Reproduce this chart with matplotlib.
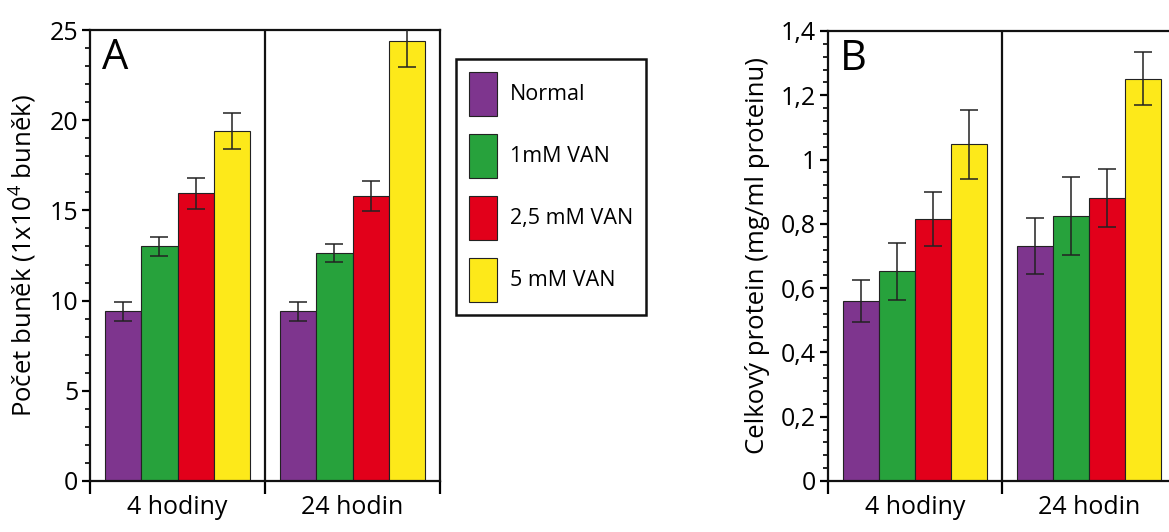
import numpy as np
import matplotlib
matplotlib.use("Agg")
import matplotlib.pyplot as plt
from matplotlib.patches import Patch
from matplotlib.ticker import MultipleLocator

plt.rcParams['font.family'] = ['Open Sans', 'DejaVu Sans']
plt.rcParams['mathtext.fontset'] = 'custom'
plt.rcParams['mathtext.rm'] = 'Open Sans'

groups = ['4 hodiny', '24 hodin']
series = ['Normal', '1mM VAN', '2,5 mM VAN', '5 mM VAN']
colors = ['#7e358e', '#27a23c', '#e2001a', '#fde91a']

# panel A: pocet bunek (1x10^4)
cells = [[9.4, 13.0, 15.95, 19.4],
         [9.4, 12.65, 15.8, 24.4]]
cells_err = [[0.55, 0.5, 0.85, 1.0],
             [0.55, 0.5, 0.85, 1.45]]

# panel B: celkovy protein (mg/ml)
prot = [[0.56, 0.652, 0.815, 1.048],
        [0.73, 0.825, 0.88, 1.252]]
prot_err = [[0.065, 0.09, 0.085, 0.107],
            [0.087, 0.122, 0.09, 0.083]]

fig = plt.figure(figsize=(11.69, 5.32), dpi=100)
axA = fig.add_axes([90/1169, 51/532, 350/1169, 451/532])
axB = fig.add_axes([828/1169, 51/532, 348/1169, 450/532])

bw = 0.206


def draw(ax, vals, errs, ymax, major, minor, label, letter, fmt):
    for g in range(len(groups)):
        for i in range(len(series)):
            x = g + 0.5 + (i - 1.5) * bw
            ax.bar(x, vals[g][i], width=bw, color=colors[i], edgecolor='#222222',
                   linewidth=0.8, zorder=2)
            ax.errorbar(x, vals[g][i], yerr=errs[g][i], color='#222222',
                        elinewidth=1.1, capsize=6.5, capthick=1.1, zorder=3)
    ax.axvline(1, color='#111111', linewidth=1.6, zorder=4)
    ax.set_xlim(0, 2)
    ax.set_ylim(0, ymax)
    for s in ax.spines.values():
        s.set_linewidth(1.6)
        s.set_color('#111111')
    ax.set_xticks([0, 1, 2])
    ax.set_xticklabels([])
    ax.set_xticks([0.5, 1.5], minor=True)
    ax.set_xticklabels(groups, minor=True, fontsize=18)
    ax.tick_params(axis='x', which='major', direction='out', length=9, width=1.6)
    ax.tick_params(axis='x', which='minor', length=0, pad=10)
    ax.yaxis.set_major_locator(MultipleLocator(major))
    ax.yaxis.set_minor_locator(MultipleLocator(minor))
    ax.set_yticklabels([fmt(v) for v in ax.get_yticks()])
    ax.tick_params(axis='y', which='major', direction='out', length=5.5, width=1.6,
                   labelsize=18, pad=3)
    ax.tick_params(axis='y', which='minor', direction='out', length=3.5, width=1.2)
    ax.set_ylabel(label, fontsize=18.5, labelpad=8)
    ax.text(0.035, 0.985, letter, transform=ax.transAxes, va='top', ha='left',
            fontsize=30)


def fmt_a(v):
    return '%d' % round(v)


def fmt_b(v):
    s = ('%.1f' % v).rstrip('0').rstrip('.')
    return s.replace('.', ',')


draw(axA, cells, cells_err, 25, 5, 1, 'Počet buněk (1x10$^4$ buněk)', 'A', fmt_a)
draw(axB, prot, prot_err, 1.4, 0.2, 0.04, 'Celkový protein (mg/ml proteinu)', 'B', fmt_b)

handles = [Patch(facecolor=c, edgecolor='#222222', linewidth=0.8) for c in colors]
leg = fig.legend(handles, series, loc='upper left', bbox_to_anchor=(456/1169, 1 - 59/532),
                 fontsize=15.5, frameon=True, fancybox=False, edgecolor='#111111',
                 framealpha=1, handlelength=1.3, handleheight=2.75, labelspacing=0.85,
                 handletextpad=0.6, borderpad=0.6, borderaxespad=0)
leg.get_frame().set_linewidth(1.8)

fig.savefig('out.png', dpi=100)
